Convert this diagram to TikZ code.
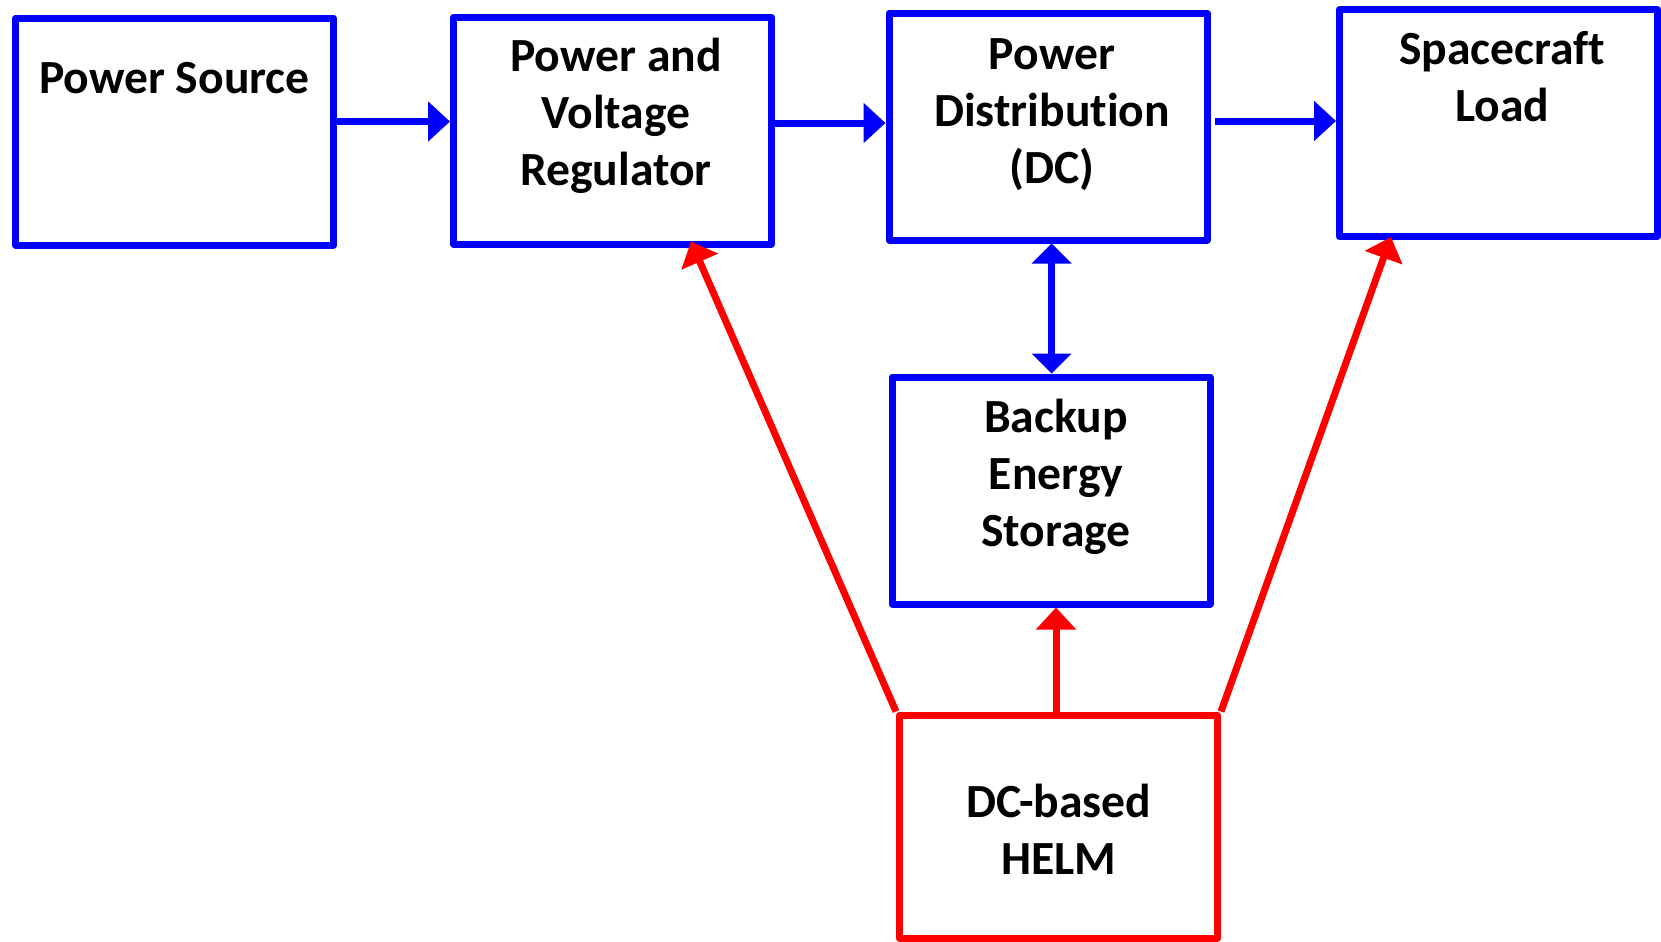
\documentclass[tikz,border=0pt]{standalone}
\usepackage{fontspec}
\setmainfont{Carlito}[Ligatures=NoCommon]
\usetikzlibrary{arrows.meta}

\tikzset{
	blk/.style={rectangle, draw=blue, line width=3.5pt, line join=round, minimum width=159pt, minimum height=113.5pt},
	helmblk/.style={blk, draw=red, minimum height=111.5pt},
	lbl/.style={align=center, inner sep=0pt, anchor=north, font=\fontsize{23.8}{28.5}\selectfont\bfseries},
	flow/.style={draw=blue, line width=3.5pt, -{Triangle[length=11pt, width=19.5pt]}},
	ctrl/.style={flow, draw=red, fill=red}
}

\begin{document}
\begin{tikzpicture}[x=0.5pt, y=-0.5pt]
	\useasboundingbox (0, 0) rectangle (1661, 942);
	% blocks
	\node[blk] (src) at (174.5, 131.5) {};
	\node[blk] (reg) at (612.5, 130.5) {};
	\node[blk] (dist) at (1048, 126.5) {};
	\node[blk] (load) at (1498.5, 123) {};
	\node[blk] (bes) at (1051, 490.5) {};
	\node[helmblk] (helm) at (1058.5, 826.5) {};
	% texts
	\node[lbl] (srctxt) at (174.5, 53) {\strut Power Source};
	\node[lbl] (regtxt) at (616, 31) {\strut Power and\\Voltage\\Regulator};
	\node[lbl] (disttxt) at (1052, 29) {\strut Power\\Distribution\\(DC)};
	\node[lbl] (loadtxt) at (1502, 24) {\strut Spacecraft\\Load};
	\node[lbl] (bestxt) at (1056, 392) {\strut Backup\\Energy\\Storage};
	\node[lbl] (helmtxt) at (1059, 777) {\strut DC-based\\HELM};
	% power path
	\coordinate (srcout) at ([yshift=5pt]src.east);
	\coordinate (regout) at ([yshift=3.75pt]reg.east);
	\coordinate (distout) at ([yshift=2.75pt]dist.east);
	\coordinate (distdown) at ([xshift=1.8pt]dist.south);
	\draw[flow] (srcout) -- (srcout -| reg.west);
	\draw[flow] (regout) -- (regout -| dist.west);
	\draw[flow, shorten <=2pt] (distout) -- (distout -| load.west);
	\draw[flow, {Triangle[length=10pt, width=19.5pt]}-{Triangle[length=10pt, width=19.5pt]}] (distdown) -- (distdown |- bes.north);
	% HELM links
	\coordinate (helmup) at ([xshift=-1.25pt]helm.north);
	\draw[ctrl] (helmup) -- (helmup |- bes.south);
	\draw[ctrl] (helm.north west) -- ([xshift=39.25pt, yshift=3pt]reg.south);
	\draw[ctrl] (helm.north east) -- ([xshift=-53.75pt, yshift=1.5pt]load.south);
\end{tikzpicture}
\end{document}
